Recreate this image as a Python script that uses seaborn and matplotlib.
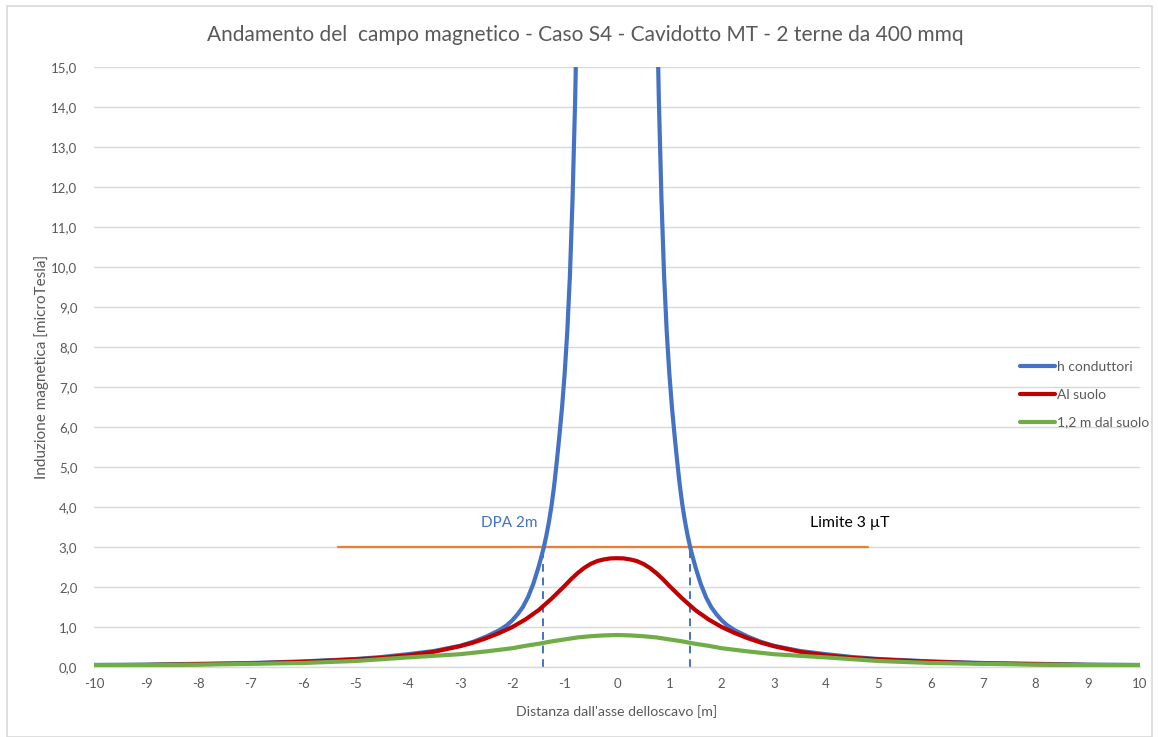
import matplotlib
matplotlib.use("Agg")
import matplotlib.pyplot as plt
import seaborn as sns
import pandas as pd
from matplotlib.patches import Rectangle
from matplotlib.ticker import FuncFormatter

# ---------------- data ----------------
title = "Andamento del  campo magnetico - Caso S4 - Cavidotto MT - 2 terne da 400 mmq"
xlabel = "Distanza dall'asse delloscavo [m]"
ylabel = "Induzione magnetica [microTesla]"
series_names = ["h conduttori", "Al suolo", "1,2 m dal suolo"]

x_blue = [-10, -9, -8, -7, -6, -5, -4.5, -4, -3.5, -3, -2.75, -2.5, -2.25, -2.1, -2.0, -1.9,
          -1.8, -1.7, -1.6, -1.5, -1.45, -1.4, -1.35, -1.3, -1.25, -1.2, -1.15, -1.1,
          -1.05, -1.0, -0.95, -0.9, -0.85, -0.8, -0.75, -0.7, -0.6, -0.5, 0.0,
          0.5, 0.6, 0.7, 0.75, 0.8, 0.85, 0.9, 0.95, 1.0, 1.05, 1.1, 1.15, 1.2, 1.25,
          1.3, 1.35, 1.4, 1.45, 1.5, 1.6, 1.7, 1.8, 1.9, 2.0, 2.1, 2.25, 2.5, 2.75,
          3, 3.5, 4, 4.5, 5, 6, 7, 8, 9, 10]
y_blue = [0.05, 0.06, 0.08, 0.10, 0.14, 0.20, 0.25, 0.32, 0.40, 0.53, 0.63, 0.76, 0.92, 1.05,
          1.17, 1.32, 1.50, 1.75, 2.08, 2.50, 2.74, 2.99, 3.29, 3.64, 4.05, 4.55, 5.15, 5.80,
          6.50, 7.35, 8.40, 9.80, 11.7, 14.2, 17.5, 21.0, 28.0, 35.0, 45.0,
          35.0, 28.0, 21.0, 17.5, 14.2, 11.7, 9.80, 8.40, 7.35, 6.50, 5.80, 5.15, 4.55, 4.05,
          3.64, 3.29, 2.99, 2.74, 2.50, 2.08, 1.75, 1.50, 1.32, 1.17, 1.05, 0.92, 0.76, 0.63,
          0.53, 0.40, 0.32, 0.25, 0.20, 0.14, 0.10, 0.08, 0.06, 0.05]

x_red = [-10, -9, -8, -7, -6, -5, -4.5, -4, -3.5, -3, -2.75, -2.5, -2.25, -2.0, -1.75, -1.5,
         -1.25, -1.0, -0.875, -0.75, -0.625, -0.5, -0.375, -0.25, -0.125, 0,
         0.125, 0.25, 0.375, 0.5, 0.625, 0.75, 0.875, 1.0, 1.25, 1.5, 1.75, 2.0, 2.25, 2.5,
         2.75, 3, 3.5, 4, 4.5, 5, 6, 7, 8, 9, 10]
y_red = [0.04, 0.05, 0.07, 0.09, 0.13, 0.19, 0.23, 0.29, 0.38, 0.52, 0.61, 0.72, 0.85, 1.00,
         1.19, 1.42, 1.71, 2.03, 2.20, 2.35, 2.48, 2.58, 2.65, 2.69, 2.715, 2.72,
         2.715, 2.69, 2.65, 2.58, 2.48, 2.35, 2.20, 2.03, 1.71, 1.42, 1.19, 1.00, 0.85, 0.72,
         0.61, 0.52, 0.38, 0.29, 0.23, 0.19, 0.13, 0.09, 0.07, 0.05, 0.04]

x_green = [-10, -9, -8, -7, -6, -5, -4, -3.5, -3, -2.5, -2, -1.75, -1.5, -1.25, -1.0, -0.75,
           -0.5, -0.25, 0, 0.25, 0.5, 0.75, 1.0, 1.25, 1.5, 1.75, 2, 2.5, 3, 3.5, 4, 5, 6, 7,
           8, 9, 10]
y_green = [0.05, 0.05, 0.06, 0.08, 0.10, 0.15, 0.24, 0.28, 0.32, 0.39, 0.47, 0.53, 0.58, 0.64,
           0.69, 0.74, 0.77, 0.79, 0.80, 0.79, 0.77, 0.74, 0.69, 0.64, 0.58, 0.53, 0.47, 0.39,
           0.32, 0.28, 0.24, 0.15, 0.10, 0.08, 0.06, 0.05, 0.05]

limit_value = 3.0
limit_x = [-5.33, 4.79]
dpa_x = [-1.42, 1.40]
x_ticks = list(range(-10, 11))
y_ticks = list(range(0, 16))

# ---------------- figure ----------------
sns.set_theme(style="white")
plt.rcParams["font.family"] = ["Lato", "DejaVu Sans"]

W, H = 1158, 737
fig = plt.figure(figsize=(W / 100, H / 100), dpi=100)
fig.patch.set_facecolor("white")
fig.add_artist(Rectangle((7 / W, 0.0), (1152 - 7) / W, 1 - 6 / H - 0.0005,
                         transform=fig.transFigure, fill=False,
                         edgecolor="#d9d9d9", linewidth=1.2))

ax = fig.add_axes([94 / W, 1 - 667 / H, (1140 - 94) / W, (667 - 67) / H])

grey = "#595959"
colors = {"h conduttori": "#4472C4", "Al suolo": "#C00000", "1,2 m dal suolo": "#70AD47"}

df = pd.concat([
    pd.DataFrame({"x": x_blue, "y": y_blue, "serie": series_names[0]}),
    pd.DataFrame({"x": x_red, "y": y_red, "serie": series_names[1]}),
    pd.DataFrame({"x": x_green, "y": y_green, "serie": series_names[2]}),
], ignore_index=True)

for name in series_names:
    sub = df[df["serie"] == name]
    sns.lineplot(data=sub, x="x", y="y", ax=ax, color=colors[name], linewidth=3.0,
                 estimator=None, sort=False, solid_capstyle="round",
                 solid_joinstyle="round", zorder=3, legend=False)

# limit line
ax.plot(limit_x, [limit_value, limit_value], color="#ED7D31", linewidth=1.6, zorder=2)
# DPA dashed verticals
for xv in dpa_x:
    ax.plot([xv, xv], [0, limit_value], color="#4472C4", linewidth=1.4,
            linestyle=(0, (4, 3)), zorder=2)

ax.text(-2.06, 3.6, "DPA 2m", color="#4472C4", fontsize=11, ha="center", va="center")
ax.text(3.69, 3.6, "Limite 3 µT", color="black", fontsize=11.3, ha="left", va="center")

ax.set_xlim(-10, 10)
ax.set_ylim(0, 15)
ax.set_xticks(x_ticks)
ax.set_yticks(y_ticks)
ax.yaxis.set_major_formatter(FuncFormatter(lambda v, p: f"{v:.1f}".replace(".", ",")))
ax.xaxis.set_major_formatter(FuncFormatter(lambda v, p: f"{int(v)}"))
ax.tick_params(axis="both", length=0, labelsize=9.5, labelcolor=grey)
ax.tick_params(axis="y", pad=12)
ax.tick_params(axis="x", pad=8)
ax.grid(axis="y", color="#d9d9d9", linewidth=1.0)
ax.grid(axis="x", visible=False)
ax.set_axisbelow(True)
for s in ["top", "right", "left"]:
    ax.spines[s].set_visible(False)
ax.spines["bottom"].set_color("#d9d9d9")
ax.spines["bottom"].set_linewidth(1.0)
ax.set_xlabel("")
ax.set_ylabel("")

fig.text(585 / W, 1 - 35 / H, title, ha="center", va="center", fontsize=15, color=grey)
fig.text(617 / W, 1 - 712 / H, xlabel, ha="center", va="center", fontsize=10.2, color=grey)
fig.text(42 / W, 1 - 367 / H, ylabel, ha="center", va="center", fontsize=11, color=grey,
         rotation=90)

handles = [plt.Line2D([], [], color=colors[n], linewidth=3.0) for n in series_names]
leg = fig.legend(handles, series_names, loc="upper left",
                 bbox_to_anchor=(1020 / W, 1 - 361 / H), frameon=False,
                 fontsize=10, handlelength=2.5, handletextpad=0.15, labelspacing=1.13,
                 borderpad=0, borderaxespad=0)
for t in leg.get_texts():
    t.set_color(grey)

fig.savefig("out.png", dpi=100, facecolor="white")
